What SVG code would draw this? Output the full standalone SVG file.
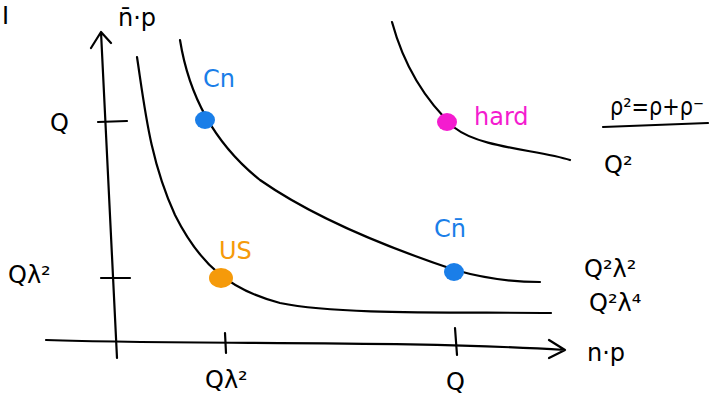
<svg xmlns="http://www.w3.org/2000/svg" width="721" height="399" viewBox="0 0 721 399">
<style>
.ln{fill:none;stroke:#000;stroke-width:2.2;stroke-linecap:round;stroke-linejoin:round}
.t{font-family:"DejaVu Sans",sans-serif;font-size:24px;fill:#000}
.b{fill:#1a7ee8}
.m{fill:#f41ccf}
.o{fill:#f59a0a}
</style>
<rect width="721" height="399" fill="#fff"/>
<g id="axes">
<path class="ln" d="M117,358 L101,32 M91,48 L101,32 L111,43"/>
<path class="ln" d="M46,340 C200,345 400,340 565,350 M549,340 L565,350 L549,358"/>
<path class="ln" d="M98,122 L127,121 M101,278 L130,278 M225,333 L226,353 M455,328 L457,355"/>
</g>
<g id="curves">
<path class="ln" d="M137,57 C145,110 150,160 175,215 C200,265 230,290 280,303 C340,315 450,312 551,313"/>
<path class="ln" d="M180,40 C188,90 210,140 260,180 C310,215 380,245 455,270 C490,280 520,282 540,282"/>
<path class="ln" d="M392,22 C405,70 430,105 455,128 C480,148 540,150 570,160"/>
</g>
<g id="dots">
<g id="cn"><ellipse class="b" cx="205" cy="120" rx="10" ry="9"/><text x="203" y="87" class="t" style="fill:#1a7ee8">Cn</text></g>
<g id="hard"><ellipse class="m" cx="447" cy="122" rx="10" ry="9"/><text x="474" y="125" class="t" style="fill:#f41ccf">hard</text></g>
<g id="cnbar"><ellipse class="b" cx="454" cy="272" rx="10" ry="9"/><text x="434" y="237" class="t" style="fill:#1a7ee8">Cn̄</text></g>
<g id="us"><ellipse class="o" cx="221" cy="278" rx="12" ry="10"/><text x="219" y="259" class="t" style="fill:#f59a0a">US</text></g>
</g>
<g id="labels">
<text x="2" y="24" class="t">I</text>
<text x="118" y="26" class="t">n̄·p</text>
<text x="50" y="131" class="t">Q</text>
<text x="8" y="283" class="t">Qλ²</text>
<text x="205" y="388" class="t">Qλ²</text>
<text x="446" y="390" class="t">Q</text>
<text x="587" y="361" class="t">n·p</text>
<text x="610" y="115" class="t" textLength="94" lengthAdjust="spacingAndGlyphs">ρ²=ρ+ρ⁻</text>
<path class="ln" d="M603,127 L708,123"/>
<text x="604" y="173" class="t">Q²</text>
<text x="584" y="277" class="t">Q²λ²</text>
<text x="589" y="311" class="t">Q²λ⁴</text>
</g>
</svg>
